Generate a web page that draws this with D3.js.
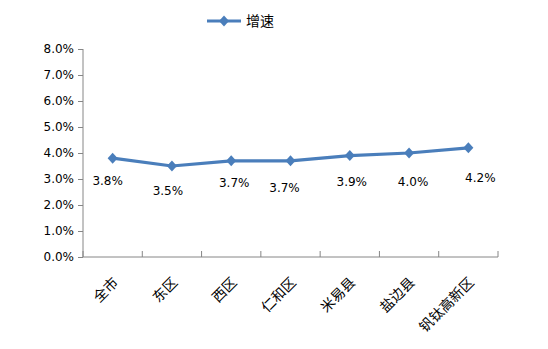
<!DOCTYPE html>
<html><head><meta charset="utf-8">
<script src="https://cdn.jsdelivr.net/npm/d3@7"></script>
<style>body{margin:0;background:#fff}</style>
</head><body>
<script>
const categories = ["全市","东区","西区","仁和区","米易县","盐边县","钒钛高新区"];
const growth = [3.8, 3.5, 3.7, 3.7, 3.9, 4.0, 4.2];
const yTicks = [0,1,2,3,4,5,6,7,8];
const seriesName = "增速";
// label nudges relative to each point (layout only)
const labelDx = [-5, -4, 3, -6, 2, 4, 12];
const labelDy = [26.5, 28.6, 25.7, 30.7, 30, 32.5, 34];

const W = 548, H = 349;
const m = {left: 83, right: 50, top: 49, bottom: 92};
const svg = d3.select("body").append("svg").attr("width", W).attr("height", H);

const x = d3.scaleBand().domain(categories).range([m.left, W - m.right]);
const y = d3.scaleLinear().domain([0, 8]).range([H - m.bottom, m.top]);
const axisColor = "#868686";
const lineColor = "#4a7ebb";

// y axis
const ya = svg.append("g").attr("transform", `translate(${m.left},0)`)
  .call(d3.axisLeft(y).tickValues(yTicks).tickFormat(d => d.toFixed(1) + "%").tickSize(5).tickPadding(4));
ya.select(".domain").attr("stroke", axisColor).attr("d", `M0,${y(8)}V${y(0)}`);
ya.selectAll(".tick line").attr("stroke", axisColor);
ya.selectAll("text").attr("font-family", "DejaVu Sans").attr("font-size", 12).attr("fill", "#000");

// x axis
const xa = svg.append("g").attr("transform", `translate(0,${y(0)})`);
xa.append("line").attr("x1", m.left).attr("x2", W - m.right).attr("stroke", axisColor);
const edges = categories.map(c => x(c)).concat([x(categories[categories.length-1]) + x.bandwidth()]);
xa.selectAll("line.tk").data(edges).enter().append("line").attr("class","tk")
  .attr("x1", d => d).attr("x2", d => d).attr("y1", 0).attr("y2", -6).attr("stroke", axisColor);
xa.selectAll("text").data(categories).enter().append("text")
  .attr("transform", d => `translate(${x(d) + x.bandwidth()/2 + 3},${23}) rotate(-45)`)
  .attr("text-anchor", "end").attr("dy", "0.35em")
  .attr("font-family", "Noto Sans CJK SC").attr("font-size", 14).attr("fill", "#000")
  .text(d => d);

// line
const cx = d => x(d) + x.bandwidth()/2;
svg.append("path").datum(categories)
  .attr("fill", "none").attr("stroke", lineColor).attr("stroke-width", 3.2).attr("stroke-linejoin", "round")
  .attr("d", d3.line().x(cx).y((d, i) => y(growth[i])));
const diamond = "M0,-5.5L5,0L0,5.5L-5,0Z";
svg.selectAll("path.pt").data(categories).enter().append("path").attr("class", "pt")
  .attr("transform", (d, i) => `translate(${cx(d)},${y(growth[i])})`)
  .attr("d", diamond).attr("fill", lineColor);

// labels
svg.selectAll("text.lbl").data(categories).enter().append("text").attr("class", "lbl")
  .attr("x", (d, i) => cx(d) + labelDx[i]).attr("y", (d, i) => y(growth[i]) + labelDy[i])
  .attr("text-anchor", "middle")
  .attr("font-family", "DejaVu Sans").attr("font-size", 12).attr("fill", "#000")
  .text((d, i) => growth[i].toFixed(1) + "%");

// legend
const lg = svg.append("g").attr("transform", "translate(207,21)");
lg.append("line").attr("x1", 0).attr("x2", 34).attr("stroke", lineColor).attr("stroke-width", 3.2);
lg.append("path").attr("transform", "translate(17,0)").attr("d", diamond).attr("fill", lineColor);
lg.append("text").attr("x", 39).attr("dy", "0.35em")
  .attr("font-family", "Noto Sans CJK SC").attr("font-size", 14).attr("fill", "#000").text(seriesName);
</script>
</body></html>
